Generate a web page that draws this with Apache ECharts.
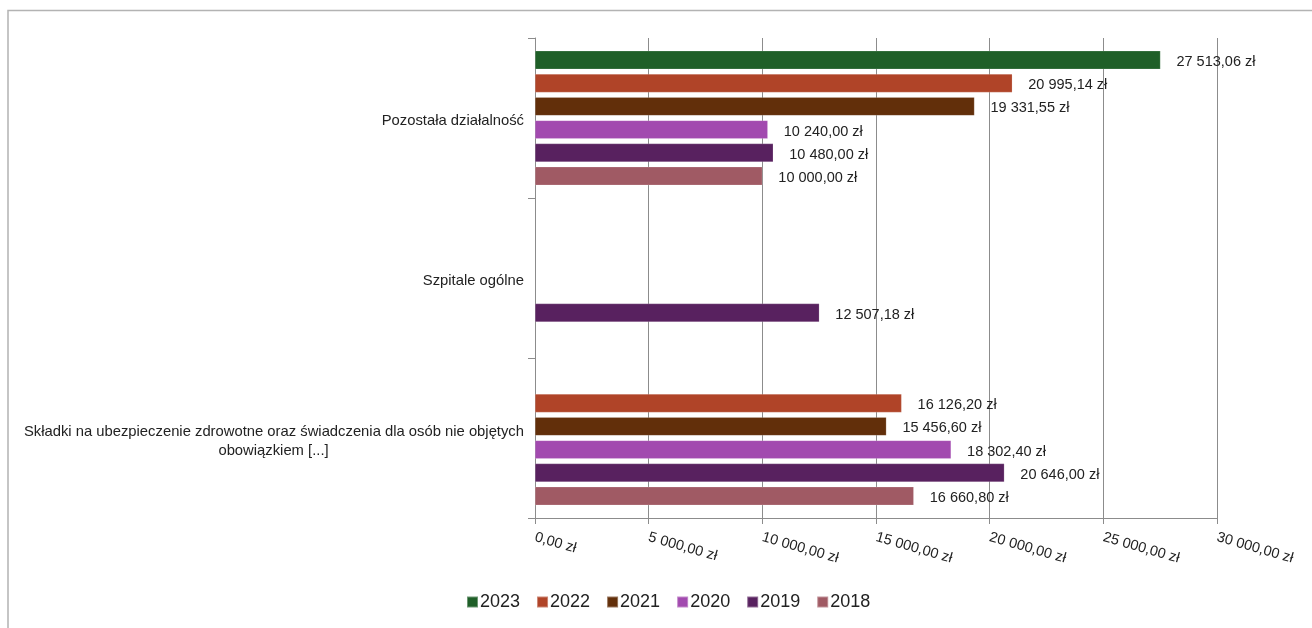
<!DOCTYPE html>
<html>
<head>
<meta charset="utf-8">
<script src="https://cdn.jsdelivr.net/npm/echarts@6/dist/echarts.min.js"></script>
<style>
html,body{margin:0;padding:0;background:#fff;}
#chart{width:1312px;height:628px;}
</style>
</head>
<body>
<div id="chart"></div>
<script>
// ---- data ----
const categories = [
  'Pozostała działalność',
  'Szpitale ogólne',
  'Składki na ubezpieczenie zdrowotne oraz świadczenia dla osób nie objętych obowiązkiem [...]'
];
const seriesNames = ['2023', '2022', '2021', '2020', '2019', '2018'];
const values2023 = [27513.06, null, null];
const values2022 = [20995.14, null, 16126.20];
const values2021 = [19331.55, null, 15456.60];
const values2020 = [10240.00, null, 18302.40];
const values2019 = [10480.00, 12507.18, 20646.00];
const values2018 = [10000.00, null, 16660.80];
const axisMin = 0, axisMax = 30000, axisStep = 5000;

const seriesValues = [values2023, values2022, values2021, values2020, values2019, values2018];
const colors = ['#1f5f28', '#b04428', '#622f0a', '#a24aaf', '#58215f', '#a05a64'];

const FONT = '"Liberation Sans", Arial, sans-serif';
const TXT = '#222';

function fmtZl(v) {
  const fixed = Number(v).toFixed(2);
  let [intPart, dec] = fixed.split('.');
  intPart = intPart.replace(/\B(?=(\d{3})+(?!\d))/g, ' ');
  return intPart + ',' + dec + ' zł';
}

// measure first line of long label to center second line beneath it
const LABEL_FS = 14.8;
const line1 = 'Składki na ubezpieczenie zdrowotne oraz świadczenia dla osób nie objętych';
const line2 = 'obowiązkiem [...]';
const cv = document.createElement('canvas').getContext('2d');
cv.font = LABEL_FS + 'px ' + FONT;
const line1W = Math.ceil(cv.measureText(line1).width);

const chart = echarts.init(document.getElementById('chart'), null, {renderer: 'canvas'});

const series = seriesNames.map((name, i) => ({
  name: name,
  type: 'bar',
  data: seriesValues[i],
  itemStyle: {color: colors[i], borderColor: 'rgba(255,255,255,0.35)', borderWidth: 0.5},
  barGap: '26%',
  barCategoryGap: '16%',
  label: {
    show: true,
    position: 'right',
    distance: 16,
    offset: [0, 2],
    color: TXT,
    fontFamily: FONT,
    fontSize: 14.5,
    formatter: p => (p.value == null ? '' : fmtZl(p.value))
  }
}));

chart.setOption({
  animation: false,
  backgroundColor: '#fff',
  textStyle: {fontFamily: FONT},
  graphic: [{
    type: 'rect',
    shape: {x: 8, y: 10.5, width: 1400, height: 700},
    style: {fill: 'none', stroke: '#b3b3b3', lineWidth: 1.5},
    silent: true
  }],
  legend: {
    data: seriesNames,
    left: 461,
    top: 588,
    icon: 'rect',
    itemWidth: 11,
    itemHeight: 11,
    itemGap: 16,
    textStyle: {color: TXT, fontSize: 18, fontFamily: FONT, padding: [0, 0, 0, -3]}
  },
  grid: {left: 535, right: 95, top: 38, bottom: 110, containLabel: false},
  xAxis: {
    type: 'value',
    min: axisMin,
    max: axisMax,
    interval: axisStep,
    axisLine: {show: true, lineStyle: {color: '#8c8c8c', width: 1}},
    axisTick: {show: true, length: 6, lineStyle: {color: '#8c8c8c'}},
    splitLine: {show: true, lineStyle: {color: '#8c8c8c', width: 1}},
    axisLabel: {
      rotate: -16,
      margin: 19,
      color: TXT,
      fontSize: 14.5,
      fontFamily: FONT,
      formatter: v => fmtZl(v)
    }
  },
  yAxis: {
    type: 'category',
    data: categories,
    inverse: true,
    axisLine: {show: true, lineStyle: {color: '#8c8c8c', width: 1}},
    axisTick: {show: true, length: 7, lineStyle: {color: '#8c8c8c'}},
    axisLabel: {
      margin: 11,
      padding: [6, 0, 0, 0],
      color: TXT,
      fontSize: LABEL_FS,
      fontFamily: FONT,
      lineHeight: 19,
      formatter: v => {
        if (v.indexOf(line1) === 0) {
          return '{a|' + line1 + '}\n{b|' + line2 + '}';
        }
        return v;
      },
      rich: {
        a: {fontSize: LABEL_FS, fontFamily: FONT, color: TXT, lineHeight: 19},
        b: {fontSize: LABEL_FS, fontFamily: FONT, color: TXT, lineHeight: 19, width: line1W, align: 'center'}
      }
    }
  },
  series: series
});
</script>
</body>
</html>
